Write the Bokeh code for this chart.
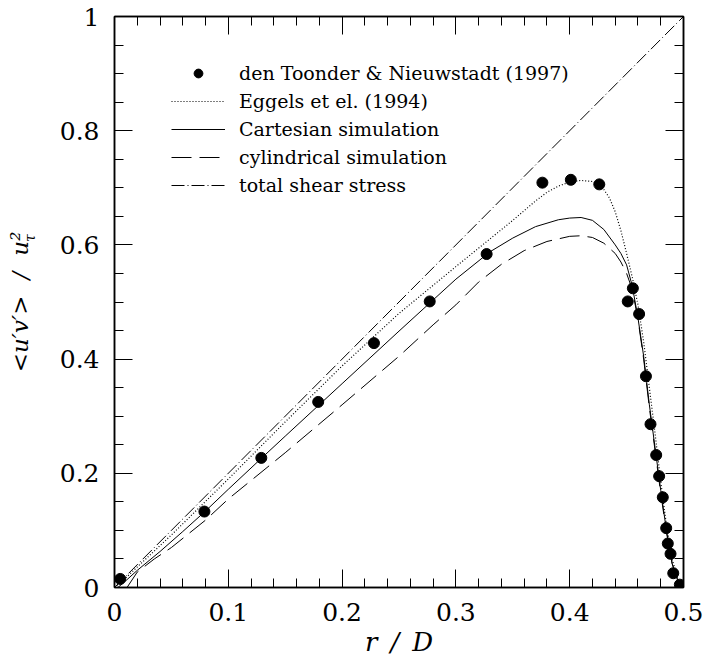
import numpy as np
from math import pi
from bokeh.plotting import figure
from bokeh.models import LinearAxis, FixedTicker, Legend, LegendItem, Label, Range1d
from bokeh.embed import file_html
from bokeh.resources import INLINE

# ---- data -------------------------------------------------------------
toonder_r = [0.005, 0.079, 0.129, 0.179, 0.228, 0.277, 0.327, 0.376, 0.401, 0.426,
             0.451, 0.4555, 0.461, 0.467, 0.471, 0.476, 0.4786, 0.4818, 0.4848,
             0.4862, 0.4886, 0.491, 0.4968]
toonder_uv = [0.015, 0.133, 0.227, 0.325, 0.428, 0.501, 0.584, 0.709, 0.714, 0.706,
              0.501, 0.524, 0.479, 0.370, 0.286, 0.232, 0.195, 0.158, 0.104,
              0.077, 0.059, 0.025, 0.005]

eggels_r = [0.0, 0.01, 0.02, 0.05, 0.1, 0.15, 0.2, 0.25, 0.3, 0.35, 0.36, 0.37, 0.38,
            0.39, 0.40, 0.41, 0.42, 0.43, 0.435, 0.44, 0.445, 0.45, 0.455, 0.46,
            0.465, 0.47, 0.475, 0.48, 0.485, 0.49, 0.495, 0.5]
eggels_uv = [0.0, 0.017, 0.036, 0.092, 0.19, 0.29, 0.388, 0.48, 0.562, 0.643, 0.66,
             0.677, 0.692, 0.703, 0.71, 0.713, 0.711, 0.697, 0.682, 0.658, 0.625,
             0.585, 0.543, 0.495, 0.43, 0.35, 0.27, 0.185, 0.11, 0.05, 0.015, 0.0]

cart_r = [0.003, 0.01, 0.02, 0.04, 0.06, 0.08, 0.1, 0.13, 0.15, 0.2, 0.25, 0.3, 0.33,
          0.35, 0.37, 0.39, 0.40, 0.41, 0.42, 0.43, 0.44, 0.445, 0.45, 0.455, 0.46,
          0.465, 0.47, 0.475, 0.48, 0.485, 0.49, 0.495, 0.5]
cart_uv = [0.0, 0.012, 0.03, 0.063, 0.098, 0.134, 0.172, 0.228, 0.265, 0.357, 0.449,
           0.54, 0.588, 0.612, 0.632, 0.644, 0.647, 0.648, 0.643, 0.627, 0.6, 0.585,
           0.565, 0.528, 0.472, 0.405, 0.32, 0.245, 0.17, 0.1, 0.042, 0.012, 0.0]

cyl_r = [0.011, 0.02, 0.035, 0.05, 0.08, 0.1, 0.15, 0.2, 0.25, 0.28, 0.3, 0.32, 0.34,
         0.36, 0.38, 0.40, 0.41, 0.42, 0.43, 0.44, 0.445, 0.45, 0.455, 0.46, 0.465,
         0.47, 0.475, 0.48, 0.485, 0.49, 0.495, 0.5]
cyl_uv = [0.0, 0.027, 0.05, 0.07, 0.118, 0.155, 0.236, 0.32, 0.405, 0.46, 0.495, 0.535,
          0.566, 0.59, 0.606, 0.615, 0.616, 0.613, 0.603, 0.585, 0.57, 0.55, 0.522,
          0.47, 0.40, 0.315, 0.24, 0.165, 0.097, 0.042, 0.012, 0.0]

total_r = [0.0, 0.5]
total_uv = [0.0, 1.0]

x_ticks = [0.0, 0.1, 0.2, 0.3, 0.4, 0.5]
x_tick_labels = ["0", "0.1", "0.2", "0.3", "0.4", "0.5"]
y_ticks = [0.0, 0.2, 0.4, 0.6, 0.8, 1.0]
y_tick_labels = ["0", "0.2", "0.4", "0.6", "0.8", "1"]

legend_labels = ["den Toonder & Nieuwstadt (1997)", "Eggels et el. (1994)",
                 "Cartesian simulation", "cylindrical simulation", "total shear stress"]
x_title = "r\u2002/\u2002D"
y_title = "<u\u2032v\u2032>\u2002\u2009/\u2002\u2009u\u00b2"
y_title_sub = "\u03c4"

x_minor = [round(v, 3) for v in np.arange(0, 0.5001, 0.02)]
y_minor = [round(v, 3) for v in np.arange(0, 1.0001, 0.05)]

SERIF = "DejaVu Serif"

# ---- figure -----------------------------------------------------------
p = figure(width=705, height=664, output_backend="svg", toolbar_location=None,
           x_range=Range1d(0, 0.5), y_range=Range1d(0, 1),
           min_border_left=114, min_border_right=22, min_border_top=16,
           min_border_bottom=77)
p.grid.visible = False
p.outline_line_color = "black"
p.outline_line_width = 1.5
p.background_fill_color = "white"
p.border_fill_color = "white"


def style_axis(ax, ticks, minor, labels, show_labels, standoff):
    ax.ticker = FixedTicker(ticks=ticks, minor_ticks=minor)
    ax.axis_line_color = "black"
    ax.axis_line_width = 1.5
    ax.major_tick_line_color = "black"
    ax.minor_tick_line_color = "black"
    ax.major_tick_line_width = 1
    ax.minor_tick_line_width = 1
    ax.major_tick_in = 18
    ax.major_tick_out = 0
    ax.minor_tick_in = 9
    ax.minor_tick_out = 0
    if show_labels:
        ax.major_label_overrides = {t: l for t, l in zip(ticks, labels)}
        ax.major_label_text_font = SERIF
        ax.major_label_text_font_size = "25px"
        ax.major_label_text_color = "black"
        ax.major_label_standoff = standoff
    else:
        ax.major_label_overrides = {t: "" for t in ticks}
        ax.major_label_text_font_size = "1px"
        ax.major_label_standoff = 0


style_axis(p.xaxis[0], x_ticks, x_minor, x_tick_labels, True, 15)
style_axis(p.yaxis[0], y_ticks, y_minor, y_tick_labels, True, 15)
p.yaxis[0].major_label_orientation = "horizontal"

xa = p.xaxis[0]
xa.axis_label = x_title
xa.axis_label_text_font = SERIF
xa.axis_label_text_font_style = "italic"
xa.axis_label_text_font_size = "26px"
xa.axis_label_text_color = "black"
xa.axis_label_standoff = 3

ya = p.yaxis[0]
ya.axis_label = y_title
ya.axis_label_text_font = SERIF
ya.axis_label_text_font_style = "italic"
ya.axis_label_text_font_size = "23px"
ya.axis_label_text_color = "black"
ya.axis_label_standoff = 24

top_ax = LinearAxis()
right_ax = LinearAxis()
style_axis(top_ax, x_ticks, x_minor, x_tick_labels, False, 0)
style_axis(right_ax, y_ticks, y_minor, y_tick_labels, False, 0)
p.add_layout(top_ax, "above")
p.add_layout(right_ax, "right")

# ---- curves -----------------------------------------------------------
r_total = p.line(total_r, total_uv, line_color="black", line_width=1,
                 line_dash="13 3 1 3")
r_cyl = p.line(cyl_r, cyl_uv, line_color="black", line_width=1, line_dash="20 8")
r_cart = p.line(cart_r, cart_uv, line_color="black", line_width=1)
r_egg = p.line(eggels_r, eggels_uv, line_color="black", line_width=1.2,
               line_dash="1 2")
r_dots = p.scatter(toonder_r, toonder_uv, marker="circle", size=11,
                   fill_color="black", line_color="black")

legend = Legend(items=[
    LegendItem(label=legend_labels[0], renderers=[r_dots]),
    LegendItem(label=legend_labels[1], renderers=[r_egg]),
    LegendItem(label=legend_labels[2], renderers=[r_cart]),
    LegendItem(label=legend_labels[3], renderers=[r_cyl]),
    LegendItem(label=legend_labels[4], renderers=[r_total]),
])
legend.location = (57, 391)
legend.border_line_color = None
legend.background_fill_alpha = 0
legend.padding = 0
legend.margin = 0
legend.spacing = 6
legend.glyph_width = 54
legend.glyph_height = 22
legend.label_height = 22
legend.label_standoff = 14
legend.label_text_font = SERIF
legend.label_text_font_size = "19px"
legend.label_text_color = "black"
p.add_layout(legend)

# subscript tau of the y title (side panel, so it is not clipped to the frame)
p.add_layout(Label(x=-0.074, y=0.612, text=y_title_sub, text_font=SERIF,
                   text_font_style="italic", text_font_size="14px",
                   text_color="black", angle=pi / 2, text_align="center",
                   text_baseline="middle"), "right")

open("out.html", "w").write(file_html(p, INLINE))
